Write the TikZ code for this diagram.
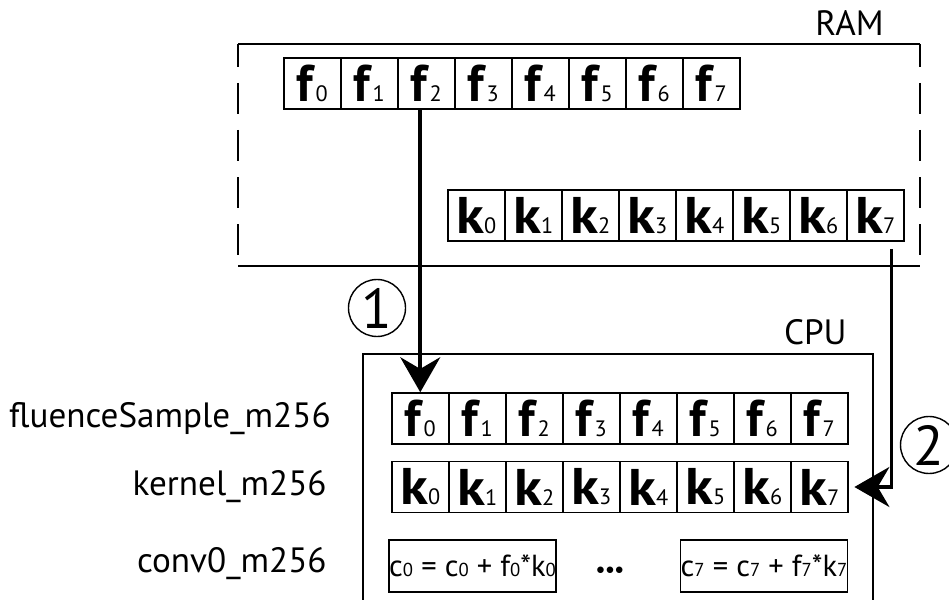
\documentclass[tikz,border=0pt]{standalone}
\usepackage{fontspec}
\setmainfont{PT Sans}
\usetikzlibrary{calc, positioning, arrows.meta}

\newcommand{\lo}[1]{{\fontsize{19}{19}\selectfont #1}}
\newcommand{\fsym}[1]{\textbf{f}\lo{#1}}
\newcommand{\ksym}[1]{\scalebox{1.1}[1]{\textbf{k}}\lo{#1}}
\newcommand{\cs}[1]{{\fontsize{16}{16}\selectfont #1}}

\begin{document}
\begin{tikzpicture}[x=0.03cm, y=-0.03cm, thick,
    cell/.style={draw, line width=1.3pt, anchor=west, inner sep=0pt, minimum width=1.71cm, minimum height=1.53cm, font=\fontsize{44}{44}\selectfont},
    accbox/.style={draw, line width=1.3pt, inner sep=0pt, minimum width=4.89cm, minimum height=1.56cm, font=\fontsize{26}{26}\selectfont},
    lbl/.style={anchor=east, font=\fontsize{30}{30}\selectfont},
    stepmark/.style={draw, circle, line width=1.2pt, minimum size=1.71cm, inner sep=0pt, font=\fontsize{48}{48}\selectfont},
    flow/.style={line width=3.2pt, -{Stealth[length=1.05cm, width=1.2cm, inset=0.35cm]}}]
        \useasboundingbox (0,0) rectangle (949,600);

        % RAM
        \draw[line width=1.3pt] (238,44) -- (920,44);
        \draw[line width=1.3pt] (238,266) -- (920,266);
        \draw[line width=1.3pt, dash pattern=on 0.93cm off 0.48cm, dash phase=0.24cm] (238,44) -- (238,266);
        \draw[line width=1.3pt, dash pattern=on 0.93cm off 0.48cm, dash phase=0.24cm] (920,44) -- (920,266);
        \node[anchor=east, font=\fontsize{30}{30}\selectfont] (ram) at (888,23) {RAM};

        \foreach \i in {0,...,7} {
            \node[cell] (rf\i) at (283+57*\i,83.5) {\fsym{\i}};
            \node[cell] (rk\i) at (447+57*\i,215.5) {\ksym{\i}};
        }

        % CPU
        \draw[line width=1.3pt] (363,600) |- (873,354) -- (873,600);
        \node[anchor=east, font=\fontsize{30}{30}\selectfont] (cpu) at (851,332) {CPU};

        \foreach \i in {0,...,7} {
            \node[cell] (cf\i) at (391+57*\i,418.5) {\fsym{\i}};
            \node[cell] (ck\i) at (391+57*\i,487) {\ksym{\i}};
        }
        \node[accbox] (c0box) at (472.5,566) {c\cs{0} = c\cs{0} + f\cs{0}*k\cs{0}};
        \node[font=\fontsize{14}{14}\selectfont] (dots) at (610,571) {$\bullet\!\bullet\!\bullet$};
        \node[accbox] (c7box) at (764,566) {c\cs{7} = c\cs{7} + f\cs{7}*k\cs{7}};

        \node[lbl] (lblf) at (335,418.5) {fluenceSample\_m256};
        \node[lbl] (lblk) at (331,487) {kernel\_m256};
        \node[lbl] (lblc) at (331,564) {conv0\_m256};

        % transfers
        \draw[flow] (cf0.north |- rf2.south) -- (cf0.north);
        \coordinate (k7out) at ($(rk7.south east)+(-13,7)$);
        \draw[flow, shorten >=5pt] (k7out) |- (ck7.east);
        \node[stepmark] (one) at (377,308) {1};
        \node[stepmark] (two) at (929,445) {2};
\end{tikzpicture}
\end{document}
